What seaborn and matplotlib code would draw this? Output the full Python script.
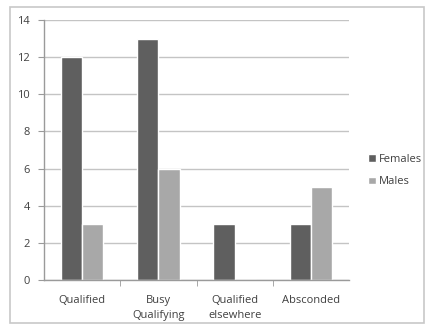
import matplotlib
matplotlib.use("Agg")
import matplotlib.pyplot as plt
from matplotlib.patches import Rectangle
import seaborn as sns
import pandas as pd

categories = ["Qualified", "Busy\nQualifying", "Qualified\nelsewhere", "Absconded"]
females = [12, 13, 3, 3]
males = [3, 6, 0, 5]
series = ["Females", "Males"]
colors = ["#5f5f5f", "#a8a8a8"]

df = pd.DataFrame({
    "category": categories * 2,
    "count": females + males,
    "sex": [series[0]] * len(categories) + [series[1]] * len(categories),
})

sns.set_style("white")
plt.rcParams["font.family"] = ["Open Sans", "DejaVu Sans"]

fig = plt.figure(figsize=(4.26, 3.27), dpi=100)
ax = fig.add_axes([44 / 426, 1 - 280 / 327, (349 - 44) / 426, (280 - 20) / 327])

sns.barplot(data=df, x="category", y="count", hue="sex", palette=colors,
            width=0.56, saturation=1, ax=ax, legend=True)

ax.set_ylim(0, 14)
ax.set_yticks(range(0, 15, 2))
ax.set_xlim(-0.5, len(categories) - 0.5)
ax.yaxis.grid(True, color="#c4c4c4", linewidth=1)
ax.set_axisbelow(True)
ax.set_xlabel("")
ax.set_ylabel("")

for side in ["top", "right"]:
    ax.spines[side].set_visible(False)
for side in ["left", "bottom"]:
    ax.spines[side].set_color("#9a9a9a")
    ax.spines[side].set_linewidth(1)

ax.tick_params(axis="y", which="major", left=True, length=4, color="#9a9a9a",
               labelsize=8, labelcolor="#404040", pad=6)
ax.tick_params(axis="x", which="major", bottom=False, labelsize=8,
               labelcolor="#404040", pad=7)
for lbl in ax.get_xticklabels():
    lbl.set_linespacing(1.6)
ax.set_xticks([i + 0.5 for i in range(len(categories) - 1)], minor=True)
ax.tick_params(axis="x", which="minor", bottom=True, length=4, color="#9a9a9a")

handles, labels = ax.get_legend_handles_labels()
ax.legend(handles, labels, loc="center left", bbox_to_anchor=(1.03, 0.42),
          frameon=False, fontsize=8, handlelength=0.7, handleheight=0.7,
          handletextpad=0.3, labelspacing=1.0, labelcolor="#404040")

fig.patches.append(Rectangle((10 / 426, 4 / 327), 414 / 426, 316 / 327,
                             transform=fig.transFigure, fill=False,
                             edgecolor="#c8c8c8", linewidth=1.2))

fig.savefig("out.png", dpi=100)
